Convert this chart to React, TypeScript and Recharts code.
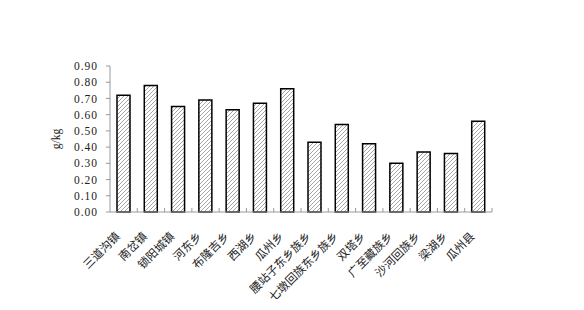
import React from "react";
import { BarChart, Bar, XAxis, YAxis, Label } from "recharts";

const categories = [
  "三道沟镇", "南岔镇", "锁阳城镇", "河东乡", "布隆吉乡", "西湖乡", "瓜州乡",
  "腰站子东乡族乡", "七墩回族东乡族乡", "双塔乡", "广至藏族乡", "沙河回族乡", "梁湖乡", "瓜州县",
];
const values = [0.72, 0.78, 0.65, 0.69, 0.63, 0.67, 0.76, 0.43, 0.54, 0.42, 0.30, 0.37, 0.36, 0.56];
const yTicks = [0, 0.1, 0.2, 0.3, 0.4, 0.5, 0.6, 0.7, 0.8, 0.9];

const data = categories.map((name, i) => ({ name, value: values[i] }));

const serif = "'Liberation Serif', 'DejaVu Serif', 'Noto Sans CJK SC', serif";

const XTick = (props: any) => {
  const { x, y, payload } = props;
  const half = 13.65;
  const ax = x - 3;
  const ay = y + 25;
  return (
    <g>
      <line x1={x + half} y1={y - 4} x2={x + half} y2={y} stroke="#999" strokeWidth={1} />
      <text
        x={ax}
        y={ay}
        textAnchor="end"
        fontSize={11.5}
        fill="#222"
        fontFamily="'Noto Sans CJK SC', serif"
        transform={`rotate(-45, ${ax}, ${ay})`}
      >
        {payload.value}
      </text>
    </g>
  );
};

export default function App() {
  return (
    <BarChart
      width={576}
      height={302}
      data={data}
      margin={{ top: 58, right: 92, left: 42, bottom: 0 }}
      barCategoryGap={0}
    >
      <defs>
        <pattern id="hatch" width="4" height="4" patternUnits="userSpaceOnUse">
          <rect width="4" height="4" fill="#fff" />
          <path d="M0,4 L4,0" stroke="#666" strokeWidth={0.6} />
        </pattern>
      </defs>
      <XAxis
        dataKey="name"
        interval={0}
        tick={<XTick />}
        tickLine={false}
        tickSize={0}
        tickMargin={0}
        axisLine={{ stroke: "#999" }}
        height={98}
      />
      <YAxis
        domain={[0, 0.9]}
        ticks={yTicks}
        interval={0}
        tickFormatter={(v: number) => v.toFixed(2)}
        tick={{ fontSize: 11.5, fill: "#222", fontFamily: serif, letterSpacing: 1 }}
        tickLine={{ stroke: "#999" }}
        tickSize={4}
        tickMargin={8}
        axisLine={{ stroke: "#999" }}
        width={60}
      >
        <Label
          value="g/kg"
          angle={-90}
          position="insideLeft"
          offset={6}
          style={{ fontSize: 11.5, fill: "#222", fontFamily: serif, textAnchor: "middle" }}
        />
      </YAxis>
      <Bar
        dataKey="value"
        barSize={13}
        fill="url(#hatch)"
        stroke="#000"
        strokeWidth={1.5}
        isAnimationActive={false}
      />
    </BarChart>
  );
}
